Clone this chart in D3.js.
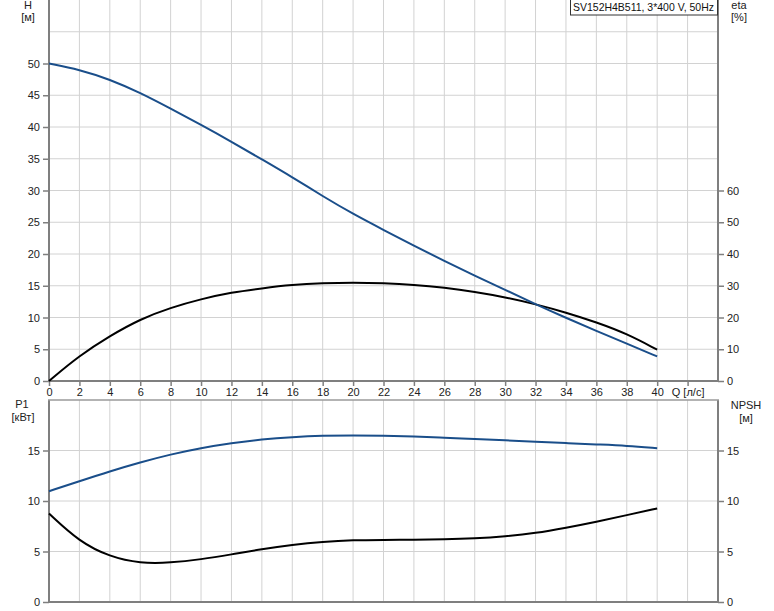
<!DOCTYPE html>
<html><head><meta charset="utf-8">
<script src="https://cdn.jsdelivr.net/npm/d3@7/dist/d3.min.js"></script>
<style>body{margin:0;background:#fff}svg{display:block;font-family:"Liberation Sans",Arial,sans-serif}</style>
</head><body><svg id="c" width="774" height="611"></svg>
<script>
const flow = [0,2,4,6,8,10,12,14,16,18,20,22,24,26,28,30,32,34,36,38,40];
const head = [50,49.05,47.5,45.4,42.9,40.35,37.7,34.9,32.1,29.1,26.3,23.8,21.3,18.9,16.6,14.35,12.1,9.95,7.9,5.87,3.87];
const eta = [0,8.0,14.2,19.5,23.1,25.8,27.9,29.2,30.3,30.8,31.0,30.8,30.3,29.4,28.1,26.4,24.2,21.6,18.5,14.9,9.85];
const power = [10.97,11.96,12.94,13.83,14.62,15.25,15.74,16.1,16.33,16.47,16.5,16.47,16.4,16.27,16.14,16.0,15.88,15.74,15.6,15.48,15.22];
const npsh = [8.76,5.96,4.48,3.82,3.88,4.22,4.71,5.24,5.66,5.96,6.13,6.15,6.17,6.2,6.29,6.49,6.82,7.35,7.94,8.6,9.26];
const xTicks = [0,2,4,6,8,10,12,14,16,18,20,22,24,26,28,30,32,34,36,38,40];
const hTicks = [0,5,10,15,20,25,30,35,40,45,50];
const etaTicks = [0,10,20,30,40,50,60];
const pTicks = [0,5,10,15];
const npshTicks = [0,5,10,15];
const title = "SV152H4B511, 3*400 V, 50Hz";

const svg = d3.select("#c");
const L = 49, R = 718;
const x = d3.scaleLinear().domain([0,44]).range([L,R]);
const yH = d3.scaleLinear().domain([0,60]).range([381,0]);
const yE = d3.scaleLinear().domain([0,120]).range([381,0]);
const yP = d3.scaleLinear().domain([0,20]).range([602,400]);

const grid = "#d2d2d2", axisC = "#7f7f7f", txt = "#222", blue = "#1a4e8a";

// grids top
const gt = svg.append("g");
d3.range(2,44,2).forEach(q => gt.append("line").attr("x1",x(q)).attr("x2",x(q)).attr("y1",0).attr("y2",381).attr("stroke",grid));
d3.range(5,60,5).forEach(h => gt.append("line").attr("x1",L).attr("x2",R).attr("y1",yH(h)).attr("y2",yH(h)).attr("stroke",grid));
// grids bottom
d3.range(2,44,2).forEach(q => gt.append("line").attr("x1",x(q)).attr("x2",x(q)).attr("y1",400).attr("y2",602).attr("stroke",grid));
[5,10,15].forEach(v => gt.append("line").attr("x1",L).attr("x2",R).attr("y1",yP(v)).attr("y2",yP(v)).attr("stroke",grid));

function styleAxis(g){
  g.select(".domain").remove();
  g.selectAll(".tick line").attr("stroke",axisC).attr("stroke-width",1.5);
  g.selectAll(".tick text").attr("fill",txt).style("font-size","11px").style("font-family","Liberation Sans, Arial, sans-serif");
}
// axes top
const axL = svg.append("g").attr("transform",`translate(${L},0)`).call(d3.axisLeft(yH).tickValues(hTicks).tickSize(6).tickPadding(3));
styleAxis(axL);
const axR = svg.append("g").attr("transform",`translate(${R},0)`).call(d3.axisRight(yE).tickValues(etaTicks).tickSize(6).tickPadding(3));
styleAxis(axR);
const axB = svg.append("g").attr("transform",`translate(0,381)`).call(d3.axisBottom(x).tickValues(xTicks.concat([42])).tickSize(5).tickPadding(2).tickFormat(d => d===42 ? "Q [л/с]" : d));
styleAxis(axB);
// axes bottom panel
const axPL = svg.append("g").attr("transform",`translate(${L},0)`).call(d3.axisLeft(yP).tickValues(pTicks).tickSize(6).tickPadding(3));
styleAxis(axPL);
const axPR = svg.append("g").attr("transform",`translate(${R},0)`).call(d3.axisRight(yP).tickValues(npshTicks).tickSize(6).tickPadding(3));
styleAxis(axPR);

// frame lines
const fr = svg.append("g").attr("stroke",axisC).attr("stroke-width",2).attr("fill","none");
fr.append("line").attr("x1",L).attr("x2",L).attr("y1",0).attr("y2",382);
fr.append("line").attr("x1",R).attr("x2",R).attr("y1",0).attr("y2",382);
fr.append("line").attr("x1",L-1).attr("x2",R+1).attr("y1",381).attr("y2",381);
fr.append("line").attr("x1",L).attr("x2",L).attr("y1",400).attr("y2",603);
fr.append("line").attr("x1",R).attr("x2",R).attr("y1",400).attr("y2",603);
fr.append("line").attr("x1",L-1).attr("x2",R+1).attr("y1",602).attr("y2",602);
fr.append("line").attr("x1",L-1).attr("x2",R+1).attr("y1",400).attr("y2",400).attr("stroke","#9a9a9a").attr("stroke-width",1.5);

// curves
const mk = (ys, ysc) => d3.line().x((d,i)=>x(flow[i])).y(d=>ysc(d)).curve(d3.curveBasis)(ys);
svg.append("path").attr("d",mk(eta,yE)).attr("fill","none").attr("stroke","#000").attr("stroke-width",2);
svg.append("path").attr("d",mk(head,yH)).attr("fill","none").attr("stroke",blue).attr("stroke-width",2);
svg.append("path").attr("d",mk(npsh,yP)).attr("fill","none").attr("stroke","#000").attr("stroke-width",2);
svg.append("path").attr("d",mk(power,yP)).attr("fill","none").attr("stroke",blue).attr("stroke-width",2);

// axis titles
const lab = (t,xx,yy) => svg.append("text").attr("x",xx).attr("y",yy).attr("text-anchor","middle").attr("fill",txt).style("font-size","11px").text(t);
lab("H",28,9); lab("[м]",28,21);
lab("eta",739,9); lab("[%]",739,21);
lab("P1",22,408); lab("[кВт]",23,421);
lab("NPSH",746,409); lab("[м]",746,422);

// title box
const tb = svg.append("g");
tb.append("rect").attr("x",570.5).attr("y",-1).attr("width",147).attr("height",16).attr("fill","#fff").attr("stroke","#333");
tb.append("text").attr("x",573).attr("y",11).attr("fill","#111").attr("textLength",141).attr("lengthAdjust","spacingAndGlyphs").style("font-size","11px").text(title);
</script></body></html>
